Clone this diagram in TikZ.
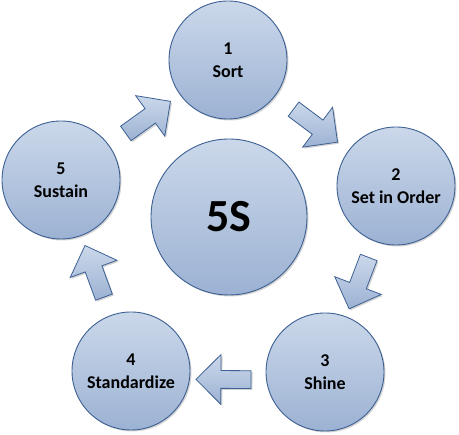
\documentclass[tikz,border=0pt]{standalone}
\usepackage{fontspec}
\setmainfont{Carlito}
\usetikzlibrary{shapes.arrows,shadows}

\definecolor{ringtop}{RGB}{203,216,234}
\definecolor{ringbot}{RGB}{156,178,211}
\definecolor{ringline}{RGB}{60,96,147}

\tikzset{
  stage/.style={circle, draw=ringline, line width=0.9pt,
    top color=ringtop, bottom color=ringbot,
    minimum size=118pt, inner sep=0pt, align=center,
    font=\fontsize{18}{23}\selectfont\bfseries,
    drop shadow={shadow xshift=1.5pt, shadow yshift=-1.5pt, opacity=0.35}},
  flow/.style={single arrow, draw=ringline, line width=0.8pt,
    top color=ringtop, bottom color=ringbot,
    minimum height=55pt, inner xsep=0pt, inner ysep=8.5pt,
    single arrow head extend=16pt,
    drop shadow={shadow xshift=1.5pt, shadow yshift=-1.5pt, opacity=0.35}}
}

\begin{document}
\begin{tikzpicture}[x=1pt, y=1pt]
    \useasboundingbox (0,0) rectangle (459,435);

    % centre
    \node[stage, minimum size=156pt, font=\fontsize{46}{50}\selectfont\bfseries] (core) at (229,218) {5S};

    % the five steps
    \node[stage] (s1) at (228,375) {1\\Sort};
    \node[stage] (s2) at (396,249) {2\\Set in Order};
    \node[stage] (s3) at (325,63) {3\\Shine};
    \node[stage] (s4) at (131,64) {4\\Standardize};
    \node[stage] (s5) at (61,255) {5\\Sustain};

    % block arrows
    \path (s1) -- (s2) node[flow, midway, sloped, allow upside down] (a12) {};
    \path (s2) -- (s3) node[flow, midway, sloped, allow upside down] (a23) {};
    \path (s3) -- (s4) node[flow, midway, sloped, allow upside down, yshift=8pt] (a34) {};
    \path (s4) -- (s5) node[flow, midway, sloped, allow upside down] (a45) {};
    \path (s5) -- (s1) node[flow, midway, sloped, allow upside down] (a51) {};
\end{tikzpicture}
\end{document}
